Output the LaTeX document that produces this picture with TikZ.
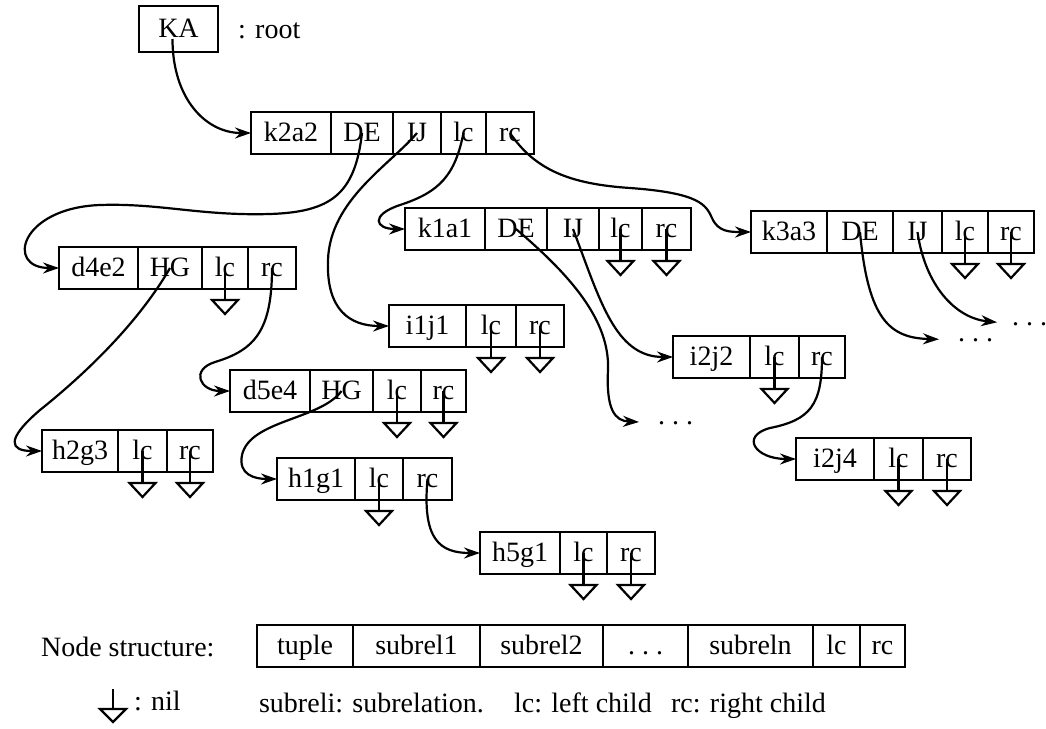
\documentclass[tikz,border=0pt]{standalone}
\usepackage{fontspec}
\setmainfont{Liberation Serif}
\usetikzlibrary{arrows.meta, positioning}

\begin{document}
\begin{tikzpicture}[>={Stealth[length=16pt,width=11pt]}, line width=2.2pt, x=1pt, y=-1pt,
  font=\fontsize{28}{30}\selectfont,
  cell/.style={draw, minimum height=42pt, inner sep=0pt, outer sep=0pt, text height=21pt, text depth=4pt},
  ptr/.style={->},
  lbl/.style={inner sep=0pt, anchor=base west}]
  \useasboundingbox (0,0) rectangle (1046,728);

  %--- root
  \node[cell, minimum width=79pt, minimum height=46pt, anchor=north west] (KA) at (139,6) {KA};
  \node[lbl] (rootlbl) at (237,38) {: root};

  %--- level 1
  \node[cell, minimum width=80pt, anchor=north west] (k2a2) at (251,112) {k2a2};
  \node[cell, minimum width=62pt, right=0pt of k2a2] (k2a2-DE) {DE};
  \node[cell, minimum width=48pt, right=0pt of k2a2-DE] (k2a2-IJ) {IJ};
  \node[cell, minimum width=45pt, right=0pt of k2a2-IJ] (k2a2-lc) {lc};
  \node[cell, minimum width=48pt, right=0pt of k2a2-lc] (k2a2-rc) {rc};

  %--- level 2
  \node[cell, minimum width=80pt, anchor=north west] (k1a1) at (405,208) {k1a1};
  \node[cell, minimum width=62pt, right=0pt of k1a1] (k1a1-DE) {DE};
  \node[cell, minimum width=52pt, right=0pt of k1a1-DE] (k1a1-IJ) {IJ};
  \node[cell, minimum width=43pt, right=0pt of k1a1-IJ] (k1a1-lc) {lc};
  \node[cell, minimum width=49pt, right=0pt of k1a1-lc] (k1a1-rc) {rc};

  \node[cell, minimum width=76pt, anchor=north west] (k3a3) at (751,211) {k3a3};
  \node[cell, minimum width=66pt, right=0pt of k3a3] (k3a3-DE) {DE};
  \node[cell, minimum width=49pt, right=0pt of k3a3-DE] (k3a3-IJ) {IJ};
  \node[cell, minimum width=46pt, right=0pt of k3a3-IJ] (k3a3-lc) {lc};
  \node[cell, minimum width=46pt, right=0pt of k3a3-lc] (k3a3-rc) {rc};

  %--- subrelation DE
  \node[cell, minimum width=79pt, anchor=north west] (d4e2) at (59,247) {d4e2};
  \node[cell, minimum width=64pt, right=0pt of d4e2] (d4e2-HG) {HG};
  \node[cell, minimum width=46pt, right=0pt of d4e2-HG] (d4e2-lc) {lc};
  \node[cell, minimum width=48pt, right=0pt of d4e2-lc] (d4e2-rc) {rc};

  \node[cell, minimum width=80pt, anchor=north west] (d5e4) at (230,370) {d5e4};
  \node[cell, minimum width=63pt, right=0pt of d5e4] (d5e4-HG) {HG};
  \node[cell, minimum width=48pt, right=0pt of d5e4-HG] (d5e4-lc) {lc};
  \node[cell, minimum width=45pt, right=0pt of d5e4-lc] (d5e4-rc) {rc};

  %--- subrelation HG
  \node[cell, minimum width=76pt, anchor=north west] (h2g3) at (42,430) {h2g3};
  \node[cell, minimum width=49pt, right=0pt of h2g3] (h2g3-lc) {lc};
  \node[cell, minimum width=46pt, right=0pt of h2g3-lc] (h2g3-rc) {rc};

  \node[cell, minimum width=78pt, anchor=north west] (h1g1) at (277,458) {h1g1};
  \node[cell, minimum width=48pt, right=0pt of h1g1] (h1g1-lc) {lc};
  \node[cell, minimum width=49pt, right=0pt of h1g1-lc] (h1g1-rc) {rc};

  \node[cell, minimum width=80pt, anchor=north west] (h5g1) at (480,532) {h5g1};
  \node[cell, minimum width=47pt, right=0pt of h5g1] (h5g1-lc) {lc};
  \node[cell, minimum width=48pt, right=0pt of h5g1-lc] (h5g1-rc) {rc};

  %--- subrelation IJ
  \node[cell, minimum width=77pt, anchor=north west] (i1j1) at (389,305) {i1j1};
  \node[cell, minimum width=50pt, right=0pt of i1j1] (i1j1-lc) {lc};
  \node[cell, minimum width=48pt, right=0pt of i1j1-lc] (i1j1-rc) {rc};

  \node[cell, minimum width=77pt, anchor=north west] (i2j2) at (673,336) {i2j2};
  \node[cell, minimum width=49pt, right=0pt of i2j2] (i2j2-lc) {lc};
  \node[cell, minimum width=46pt, right=0pt of i2j2-lc] (i2j2-rc) {rc};

  \node[cell, minimum width=78pt, anchor=north west] (i2j4) at (796,438) {i2j4};
  \node[cell, minimum width=49pt, right=0pt of i2j4] (i2j4-lc) {lc};
  \node[cell, minimum width=48pt, right=0pt of i2j4-lc] (i2j4-rc) {rc};

  %--- unfinished subtrees
  \node[lbl] (dotsA) at (657,424) {.~.~.};
  \node[lbl] (dotsB) at (957,341) {.~.~.};
  \node[lbl] (dotsC) at (1011,325) {.~.~.};

  %--- pointers
  \draw[ptr] ([xshift=-6pt,yshift=-10pt]KA.center) .. controls +(0,60) and +(-45,0) .. (k2a2.west);
  \draw[ptr] (k2a2-DE.center) .. controls (355,195) and (330,212) .. (270,214)
    .. controls (200,216) and (160,203) .. (100,205)
    .. controls (20,208) and (5,268) .. (d4e2.west);
  \draw[ptr] (k2a2-IJ.center) .. controls (390,165) and (330,200) .. (328,260)
    .. controls (326,310) and (350,326) .. (i1j1.west);
  \draw[ptr] (k2a2-lc.center) .. controls (455,175) and (440,192) .. (400,205)
    .. controls (370,215) and (375,229) .. (k1a1.west);
  \draw[ptr] (k2a2-rc.center) .. controls (535,170) and (570,184) .. (630,188)
    .. controls (700,193) and (706,205) .. (712,218)
    .. controls (718,232) and (730,232) .. (k3a3.west);
  \draw[ptr] (d4e2-HG.center) .. controls (140,320) and (90,370) .. (40,410)
    .. controls (5,440) and (10,451) .. (h2g3.west);
  \draw[ptr] (d4e2-rc.center) .. controls (272,330) and (255,350) .. (215,362)
    .. controls (190,370) and (200,391) .. (d5e4.west);
  \draw[ptr, shorten >=18pt] (k1a1-DE.center) .. controls (570,275) and (610,320) .. (608,370)
    .. controls (606,410) and (615,421) .. (dotsA.west);
  \draw[ptr] (k1a1-IJ.center) .. controls (600,300) and (615,357) .. (i2j2.west);
  \draw[ptr, shorten >=18pt] (k3a3-DE.center) .. controls (868,320) and (890,338) .. (dotsB.west);
  \draw[ptr, shorten >=14pt] (k3a3-IJ.center) .. controls (925,285) and (955,318) .. (dotsC.west);
  \draw[ptr] (i2j2-rc.center) .. controls (822,405) and (810,420) .. (770,428)
    .. controls (740,436) and (755,459) .. (i2j4.west);
  \draw[ptr] (d5e4-HG.center) .. controls (320,420) and (250,420) .. (242,455)
    .. controls (238,475) and (255,479) .. (h1g1.west);
  \draw[ptr] (h1g1-rc.center) .. controls (422,540) and (440,553) .. (h5g1.west);

  %--- nil children
  \foreach \c in {k1a1-lc, k1a1-rc, k3a3-lc, k3a3-rc, d4e2-lc, i1j1-lc, i1j1-rc, i2j2-lc,
                  d5e4-lc, d5e4-rc, i2j4-lc, i2j4-rc, h2g3-lc, h2g3-rc, h1g1-lc, h5g1-lc, h5g1-rc}{
    \draw (\c.center) -- ([yshift=-11pt]\c.south) coordinate (\c-nil);
    \draw (\c-nil) -- ++(-13,0) -- ++(13,14) -- ++(13,-14) -- cycle;
  }

  %--- legend
  \node[lbl] (nslbl) at (40,656) {Node structure:};
  \node[cell, minimum width=96pt, anchor=north west] (tuple) at (257,625) {tuple};
  \node[cell, minimum width=127pt, right=0pt of tuple] (sub1) {subrel1};
  \node[cell, minimum width=123pt, right=0pt of sub1] (sub2) {subrel2};
  \node[cell, minimum width=85pt, right=0pt of sub2] (subdots) {.~.~.};
  \node[cell, minimum width=125pt, right=0pt of subdots] (subn) {subreln};
  \node[cell, minimum width=47pt, right=0pt of subn] (ns-lc) {lc};
  \node[cell, minimum width=45pt, right=0pt of ns-lc] (ns-rc) {rc};

  \coordinate (niltop) at (113,689);
  \draw (niltop) -- ++(0,20) coordinate (nilbot);
  \draw (nilbot) -- ++(-13,0) -- ++(13,13) -- ++(13,-13) -- cycle;
  \node[lbl] (nillbl) at (133,710) {: nil};
  \node[lbl] (legA) at (258,712) {subreli: subrelation.};
  \node[lbl] (legB) at (513,712) {lc: left child};
  \node[lbl] (legC) at (670,712) {rc: right child};

\end{tikzpicture}
\end{document}
